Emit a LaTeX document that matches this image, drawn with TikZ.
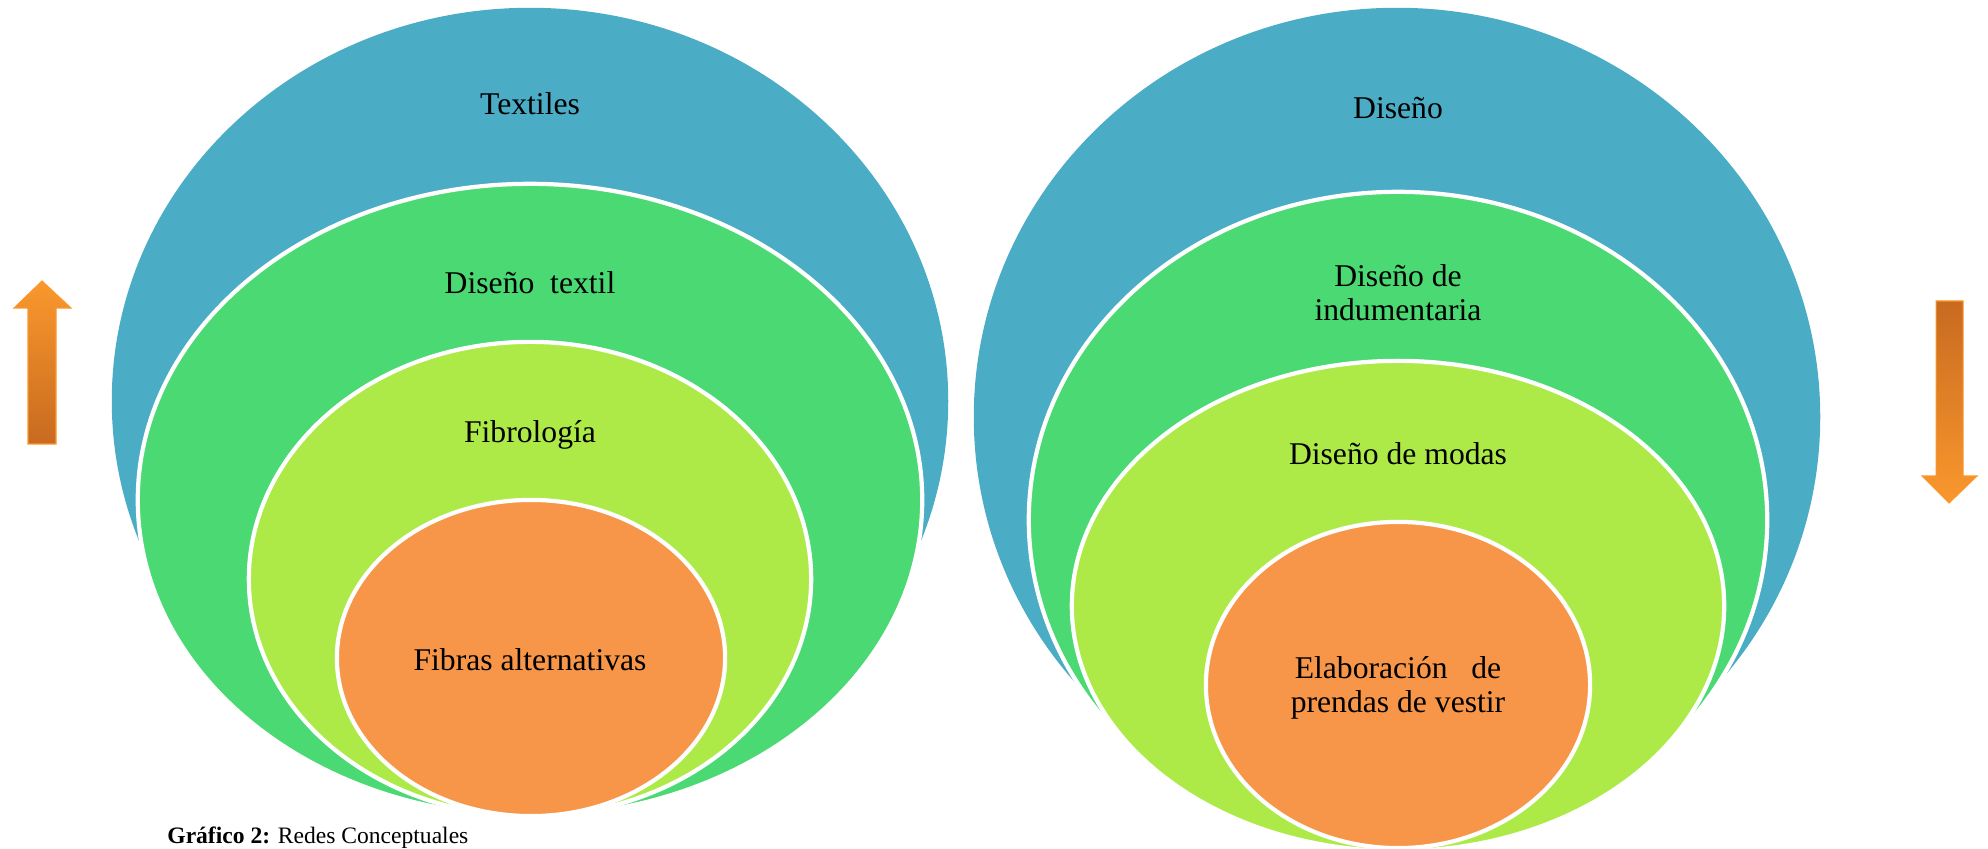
\documentclass[tikz,border=0pt]{standalone}
\usepackage{fontspec}
\setmainfont{Liberation Serif}
\usepackage{tikz}
\usetikzlibrary{shapes.geometric}
\definecolor{ringblue}{RGB}{75,172,198}
\definecolor{ringgreen}{RGB}{74,217,115}
\definecolor{ringlime}{RGB}{173,234,72}
\definecolor{ringorange}{RGB}{247,150,72}
\definecolor{arrowlight}{RGB}{250,152,45}
\definecolor{arrowdark}{RGB}{200,106,32}
\tikzset{
  outer/.style={ellipse, inner sep=0pt, draw=none, fill=ringblue},
  ring/.style={ellipse, inner sep=0pt, draw=white, line width=1.2pt},
  lbl/.style={font=\fontsize{9}{9.6}\selectfont, align=center, text=black},
  captiontext/.style={font=\fontsize{6.7}{8}\selectfont, anchor=base west}
}

\begin{document}
\begin{tikzpicture}[x=0.01cm, y=-0.01cm]
\useasboundingbox (0,0) rectangle (1988,849);
\clip (0,0) rectangle (1988,849);
% left group
\node[outer, minimum width=8.36cm, minimum height=7.86cm] (textiles) at (530,401) {};
\node[ring, fill=ringgreen, minimum width=7.84cm, minimum height=6.32cm] (disenotextil) at (530,500) {};
\node[ring, fill=ringlime, minimum width=5.62cm, minimum height=4.74cm] (fibrologia) at (530,579) {};
\node[ring, fill=ringorange, minimum width=3.88cm, minimum height=3.16cm] (fibras) at (531,658) {};
\node[lbl] (textilestxt) at (530,104) {Textiles};
\node[lbl] (disenotextiltxt) at (530,283) {Diseño\hspace{0.5em}textil};
\node[lbl] (fibrologiatxt) at (530,435) {Fibrología};
\node[lbl] (fibrastxt) at (530,660) {Fibras alternativas};
% right group
\node[outer, minimum width=8.46cm, minimum height=8.18cm] (diseno) at (1397,417) {};
\node[ring, fill=ringgreen, minimum width=7.38cm, minimum height=6.56cm] (indumentaria) at (1398,520) {};
\node[ring, fill=ringlime, minimum width=6.52cm, minimum height=4.90cm] (modas) at (1398,606) {};
\node[ring, fill=ringorange, minimum width=3.84cm, minimum height=3.26cm] (prendas) at (1398,685) {};
\node[lbl] (disenotxt) at (1398,108) {Diseño};
\node[lbl] (indumentariatxt) at (1398,293) {Diseño de\\indumentaria};
\node[lbl] (modastxt) at (1398,454) {Diseño de modas};
\node[lbl] (prendastxt) at (1398,688) {Elaboración\hspace{0.75em}de\\prendas de vestir};
% arrows
\shade[top color=arrowlight, bottom color=arrowdark, draw=arrowlight, line width=0.3pt]
  (28,444) -- (28,308) -- (14,308) -- (42,281) -- (71,308) -- (56,308) -- (56,444) -- cycle;
\shade[top color=arrowdark, bottom color=arrowlight, draw=arrowlight, line width=0.3pt]
  (1936,301) -- (1963,301) -- (1963,476) -- (1977,476) -- (1949,503) -- (1922,476) -- (1936,476) -- cycle;
% caption
\node[captiontext] (caption) at (155,843) {\textbf{Gráfico 2:} Redes Conceptuales};
\end{tikzpicture}
\end{document}
